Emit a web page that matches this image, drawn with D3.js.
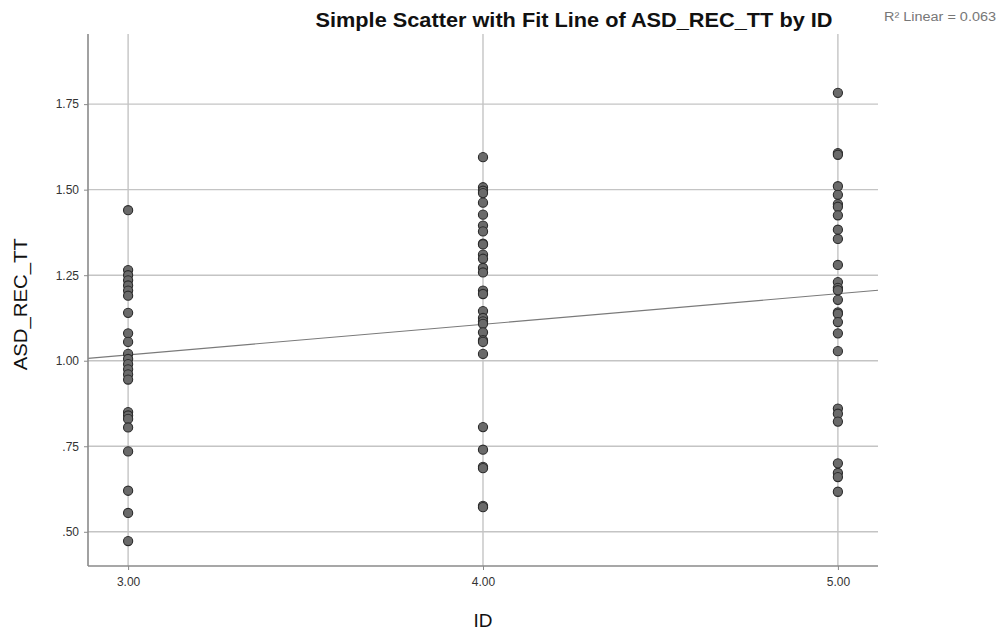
<!DOCTYPE html>
<html>
<head>
<meta charset="utf-8">
<script src="https://cdn.jsdelivr.net/npm/d3@7"></script>
<style>
  body { margin: 0; background: #fff; }
  svg { display: block; font-family: "Liberation Sans", Arial, sans-serif; }
</style>
</head>
<body>
<div id="chart"></div>
<script>
// values
const id3 = [1.44, 1.265, 1.25, 1.235, 1.22, 1.205, 1.19, 1.14, 1.08, 1.055, 1.02, 1.005, 0.99, 0.975, 0.96, 0.945,
  0.85, 0.84, 0.83, 0.805, 0.735, 0.62, 0.555, 0.473]
const id4 = [1.595, 1.507, 1.497, 1.49, 1.462, 1.427, 1.395, 1.378, 1.342, 1.34, 1.31, 1.298, 1.271, 1.258, 1.205, 1.195,
  1.145, 1.125, 1.115, 1.108, 1.083, 1.06, 1.055, 1.02, 0.806, 0.74, 0.69, 0.686, 0.576, 0.572]
const id5 = [1.783, 1.607, 1.602, 1.51, 1.485, 1.458, 1.45, 1.425, 1.383, 1.356, 1.28, 1.23, 1.213, 1.206, 1.178, 1.141,
  1.137, 1.113, 1.08, 1.028, 0.86, 0.845, 0.822, 0.7, 0.672, 0.66, 0.617]
const xTicks = [3, 4, 5]
const yTicks = [0.5, 0.75, 1.0, 1.25, 1.5, 1.75]
const fitAt = [[2.887, 1.007], [5.113, 1.206]]  // fit line endpoints (ID, value)
const r2Label = 'R\u00b2 Linear = 0.063'

const points = []
;[[3, id3], [4, id4], [5, id5]].forEach(([id, vals]) => vals.forEach(v => points.push({ id, v })))

const W = 1001, H = 633
const m = { left: 88, right: 123, top: 34, bottom: 67 }

const svg = d3.select('#chart').append('svg').attr('width', W).attr('height', H)

const x = d3.scaleLinear().domain([2.887, 5.113]).range([m.left, W - m.right])
const y = d3.scaleLinear().domain([0.4, 1.955]).range([H - m.bottom, m.top])

const g = svg.append('g')

// grid
g.selectAll('.hgrid').data(yTicks).enter().append('line')
  .attr('x1', m.left).attr('x2', W - m.right)
  .attr('y1', d => y(d)).attr('y2', d => y(d))
  .attr('stroke', '#c4c4c4').attr('stroke-width', 1.4)
g.selectAll('.vgrid').data(xTicks).enter().append('line')
  .attr('x1', d => x(d)).attr('x2', d => x(d))
  .attr('y1', m.top).attr('y2', H - m.bottom)
  .attr('stroke', '#c4c4c4').attr('stroke-width', 1.4)

// axes
const fmt = d => d < 1 ? d3.format('.2f')(d).replace(/^0/, '') : d3.format('.2f')(d)
const yAxis = svg.append('g').attr('transform', `translate(${m.left},0)`)
  .call(d3.axisLeft(y).tickValues(yTicks).tickFormat(fmt).tickSize(4).tickPadding(5))
const xAxis = svg.append('g').attr('transform', `translate(0,${H - m.bottom})`)
  .call(d3.axisBottom(x).tickValues(xTicks).tickFormat(d3.format('.2f')).tickSize(4).tickPadding(7))
;[yAxis, xAxis].forEach(a => {
  a.select('.domain').attr('stroke', '#8a8a8a').attr('stroke-width', 1.6)
  a.selectAll('.tick line').attr('stroke', '#8a8a8a')
  a.selectAll('.tick text').attr('fill', '#333').style('font-size', '12px')
    .style('font-family', '"Liberation Sans", Arial, sans-serif')
})
yAxis.select('.domain').attr('d', `M0,${H - m.bottom}V${m.top}`)
xAxis.select('.domain').attr('d', `M${m.left},0H${W - m.right}`)

// fit line
const line = d3.line().x(d => x(d[0])).y(d => y(d[1]))
g.append('path').datum(fitAt).attr('d', line)
  .attr('fill', 'none').attr('stroke', '#7a7a7a').attr('stroke-width', 1.1)

// points
g.selectAll('.pt').data(points).enter().append('circle')
  .attr('cx', d => x(d.id)).attr('cy', d => y(d.v)).attr('r', 4.6)
  .attr('fill', '#6a6a6a').attr('stroke', '#2b2b2b').attr('stroke-width', 1.1)

// texts
svg.append('text').attr('x', 574).attr('y', 27).attr('text-anchor', 'middle')
  .style('font-size', '20px').style('font-weight', 'bold').attr('fill', '#111')
  .attr('textLength', 517).attr('lengthAdjust', 'spacingAndGlyphs')
  .text('Simple Scatter with Fit Line of ASD_REC_TT by ID')
svg.append('text').attr('x', 884).attr('y', 21)
  .style('font-size', '12.5px').attr('fill', '#777')
  .attr('textLength', 112).attr('lengthAdjust', 'spacingAndGlyphs').text(r2Label)
svg.append('text').attr('x', x(4)).attr('y', 627).attr('text-anchor', 'middle')
  .style('font-size', '19px').attr('fill', '#111').text('ID')
svg.append('text').attr('transform', `translate(27,${y(1.165)}) rotate(-90)`).attr('text-anchor', 'middle')
  .style('font-size', '19px').attr('fill', '#111')
  .attr('textLength', 132).attr('lengthAdjust', 'spacingAndGlyphs').text('ASD_REC_TT')
</script>
</body>
</html>
